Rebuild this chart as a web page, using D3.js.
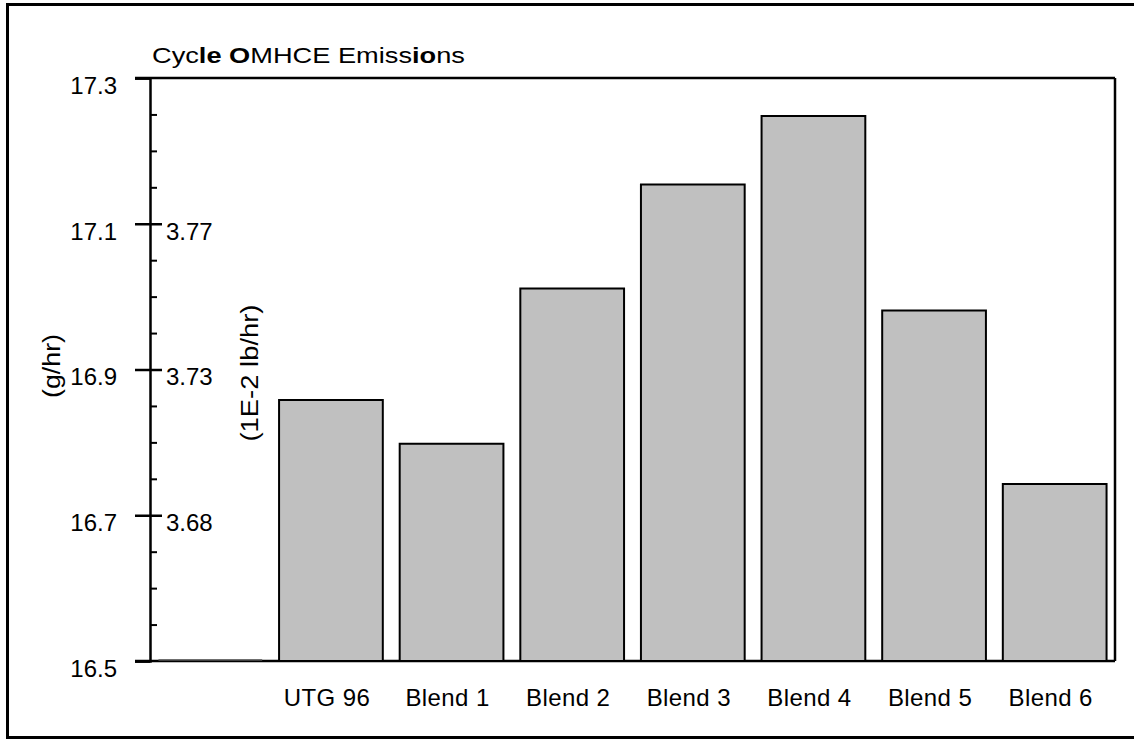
<!DOCTYPE html>
<html>
<head>
<meta charset="utf-8">
<script src="https://cdn.jsdelivr.net/npm/d3@7"></script>
<style>
  html, body { margin: 0; padding: 0; background: #fff; }
  svg { display: block; }
  text { font-family: "Liberation Sans", Arial, Helvetica, sans-serif; fill: #000; }
</style>
</head>
<body>
<svg id="chart" width="1134" height="740"></svg>
<script>
// Cycle OMHCE emissions per fuel, g/hr (secondary axis in 1E-2 lb/hr)
const categories = ["", "UTG 96", "Blend 1", "Blend 2", "Blend 3", "Blend 4", "Blend 5", "Blend 6"];
const emissions  = [16.5, 16.858, 16.798, 17.011, 17.154, 17.248, 16.981, 16.743];

const yDomain      = [16.5, 17.3];
const majorTicks   = [16.5, 16.7, 16.9, 17.1, 17.3];
const minorTicks   = [16.55, 16.6, 16.65, 16.75, 16.8, 16.85, 16.95, 17.0, 17.05, 17.15, 17.2, 17.25];
const lbTicks      = [16.7, 16.9, 17.1];
const GRAMS_PER_LB = 453.592;

const svg = d3.select("#chart");

// outer frame
svg.append("rect")
  .attr("x", 7.5).attr("y", 4.5)
  .attr("width", 1140).attr("height", 733)
  .attr("fill", "none").attr("stroke", "#000").attr("stroke-width", 3);

const plot = { left: 150, right: 1115, top: 78, bottom: 661 };

const x = d3.scaleBand()
  .domain(categories.map((c, i) => i))
  .range([plot.left, plot.right])
  .paddingInner(0.14)
  .paddingOuter(0.07);

const y = d3.scaleLinear().domain(yDomain).range([plot.bottom, plot.top]);

// plot frame: top, right and bottom
const frame = svg.append("g").attr("stroke", "#000").attr("stroke-width", 2.5).attr("fill", "none");
frame.append("line").attr("x1", plot.left - 15).attr("x2", plot.right).attr("y1", plot.top).attr("y2", plot.top);
frame.append("line").attr("x1", plot.right).attr("x2", plot.right).attr("y1", plot.top).attr("y2", plot.bottom);
frame.append("line").attr("x1", plot.left - 15).attr("x2", plot.right).attr("y1", plot.bottom).attr("y2", plot.bottom);

// bars (drawn as paths so a zero-height bar still shows its outline)
svg.append("g").selectAll("path")
  .data(emissions)
  .join("path")
  .attr("d", (d, i) => {
    const x0 = x(i), x1 = x(i) + x.bandwidth();
    const flat = d <= yDomain[0];
    const y0 = y(yDomain[0]) - (flat ? 1 : 0), y1 = flat ? y0 : y(d);
    return `M${x0},${y0}V${y1}H${x1}V${y0}Z`;
  })
  .attr("fill", "#c0c0c0")
  .attr("stroke", d => d <= yDomain[0] ? "#555" : "#000")
  .attr("stroke-width", d => d <= yDomain[0] ? 1.5 : 2);

// primary axis (g/hr)
const leftAxis = svg.append("g")
  .attr("transform", `translate(${plot.left},0)`)
  .call(d3.axisLeft(y).tickValues(majorTicks).tickSize(15).tickPadding(18)
        .tickFormat(d3.format(".1f")));
leftAxis.select(".domain").attr("stroke-width", 2.5);
leftAxis.selectAll(".tick line").attr("stroke-width", 2.5);
leftAxis.selectAll(".tick text")
  .attr("font-size", 24).attr("font-family", null).attr("dy", "0.64em");

// minor ticks
const minorAxis = svg.append("g")
  .attr("transform", `translate(${plot.left},0)`)
  .call(d3.axisRight(y).tickValues(minorTicks).tickSize(7).tickFormat(""));
minorAxis.select(".domain").remove();
minorAxis.selectAll(".tick line").attr("stroke-width", 2);

// secondary axis (1E-2 lb/hr)
const rightAxis = svg.append("g")
  .attr("transform", `translate(${plot.left},0)`)
  .call(d3.axisRight(y).tickValues(lbTicks).tickSize(12).tickPadding(4)
        .tickFormat(d => (d / GRAMS_PER_LB * 100).toFixed(2)));
rightAxis.select(".domain").remove();
rightAxis.selectAll(".tick line").attr("stroke-width", 2.5);
rightAxis.selectAll(".tick text")
  .attr("font-size", 24).attr("font-family", null).attr("dy", "0.64em");

// category labels
svg.append("g").selectAll("text")
  .data(categories)
  .join("text")
  .attr("x", (d, i) => x(i) + x.bandwidth() / 2 - 4)
  .attr("y", 706)
  .attr("text-anchor", "middle")
  .attr("font-size", 24)
  .attr("letter-spacing", 0.4)
  .text(d => d);

// title
const title = svg.append("text")
  .attr("x", 152).attr("y", 63)
  .attr("font-size", 22)
  .attr("textLength", 313)
  .attr("lengthAdjust", "spacingAndGlyphs");
[["Cyc", 400], ["le", 700], [" ", 400], ["O", 700], ["MHCE Emiss", 400], ["io", 700], ["ns", 400]]
  .forEach(([t, w]) => title.append("tspan").attr("font-weight", w).text(t));

// axis titles
svg.append("text")
  .attr("transform", "translate(60,366) rotate(-90)")
  .attr("text-anchor", "middle")
  .attr("font-size", 23)
  .attr("textLength", 64).attr("lengthAdjust", "spacingAndGlyphs")
  .text("(g/hr)");

svg.append("text")
  .attr("transform", "translate(258,373) rotate(-90)")
  .attr("text-anchor", "middle")
  .attr("font-size", 23)
  .attr("textLength", 137).attr("lengthAdjust", "spacingAndGlyphs")
  .text("(1E-2 lb/hr)");
</script>
</body>
</html>
